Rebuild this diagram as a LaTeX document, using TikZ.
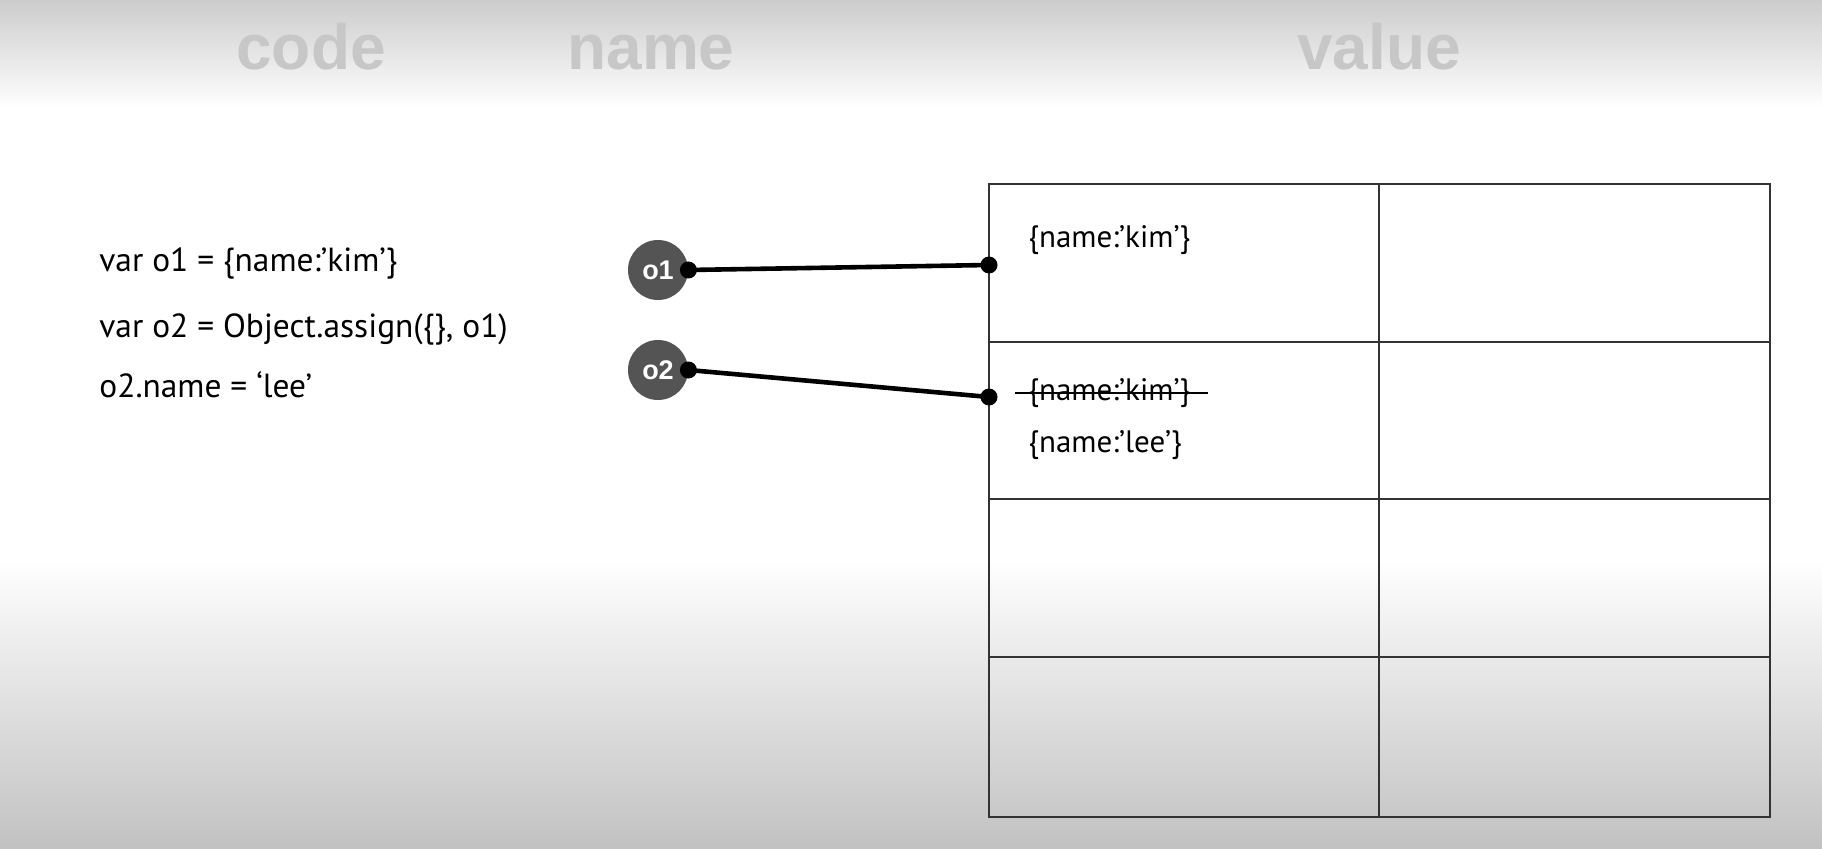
\documentclass[tikz,border=0pt]{standalone}
\usepackage{fontspec}
\setmainfont{PT Sans}
\newfontfamily\headfont{Liberation Sans}
\usetikzlibrary{positioning,calc}

\tikzset{
  header/.style={font=\headfont\bfseries\fontsize{32}{32}\selectfont, text=black!22, anchor=base},
  codeline/.style={font=\fontsize{16.7}{20}\selectfont, anchor=base west, inner sep=0pt},
  valtext/.style={font=\fontsize{15.5}{19}\selectfont, anchor=base west, inner sep=0pt},
  refname/.style={circle, fill=black!67, minimum size=30pt, inner sep=0pt, text=white,
    font=\headfont\bfseries\fontsize{13.5}{13.5}\selectfont},
  tableline/.style={draw=black!80, line width=0.55pt},
  link/.style={line width=2.3pt}
}

\begin{document}
\begin{tikzpicture}[x=0.5pt,y=0.5pt]
    \useasboundingbox (0,0) rectangle (1822,848);

    % background
    \fill[white] (0,0) rectangle (1822,848);
    \shade[top color=black!20, bottom color=white] (0,740) rectangle (1822,848);
    \shade[top color=white, bottom color=black!24] (0,0) rectangle (1822,291);

    \node[header] (hcode) at (311,778) {code};
    \node[header] (hname) at (651,778) {name};
    \node[header] (hvalue) at (1379,778) {value};

    % code
    \node[codeline] (line1) at (99,576) {var o1 = \{name:’kim’\}};
    \node[codeline] (line2) at (99,510) {var o2 = Object.assign(\{\}, o1)};
    \node[codeline] (line3) at (99,451) {o2.name = ‘lee’};

    % names
    \node[refname] (o1) at (658,578) {o1};
    \node[refname] (o2) at (658,478) {o2};

    % memory
    \draw[tableline] (989,31) rectangle (1770,664);
    \draw[tableline] (1379,31) -- (1379,664);
    \foreach \y in {191,349,506}
        \draw[tableline] (989,\y) -- (1770,\y);

    \coordinate (slot1) at (989,583);
    \coordinate (slot2) at (989,451);

    \node[valtext] (val1) at (1028,600) {\{name:’kim’\}};
    \node[valtext] (old2) at (1028,448) {\{name:’kim’\}};
    \node[valtext] (val2) at (1028,396) {\{name:’lee’\}};
    \draw[line width=1pt] ($(old2.base west)+(-13,7)$) -- ($(old2.base east)+(17,7)$);

    % references
    \draw[link] (o1.east) -- (slot1);
    \draw[link] (o2.east) -- (slot2);
    \foreach \p in {o1.east,o2.east,slot1,slot2}
        \fill (\p) circle (4.25pt);
\end{tikzpicture}
\end{document}
